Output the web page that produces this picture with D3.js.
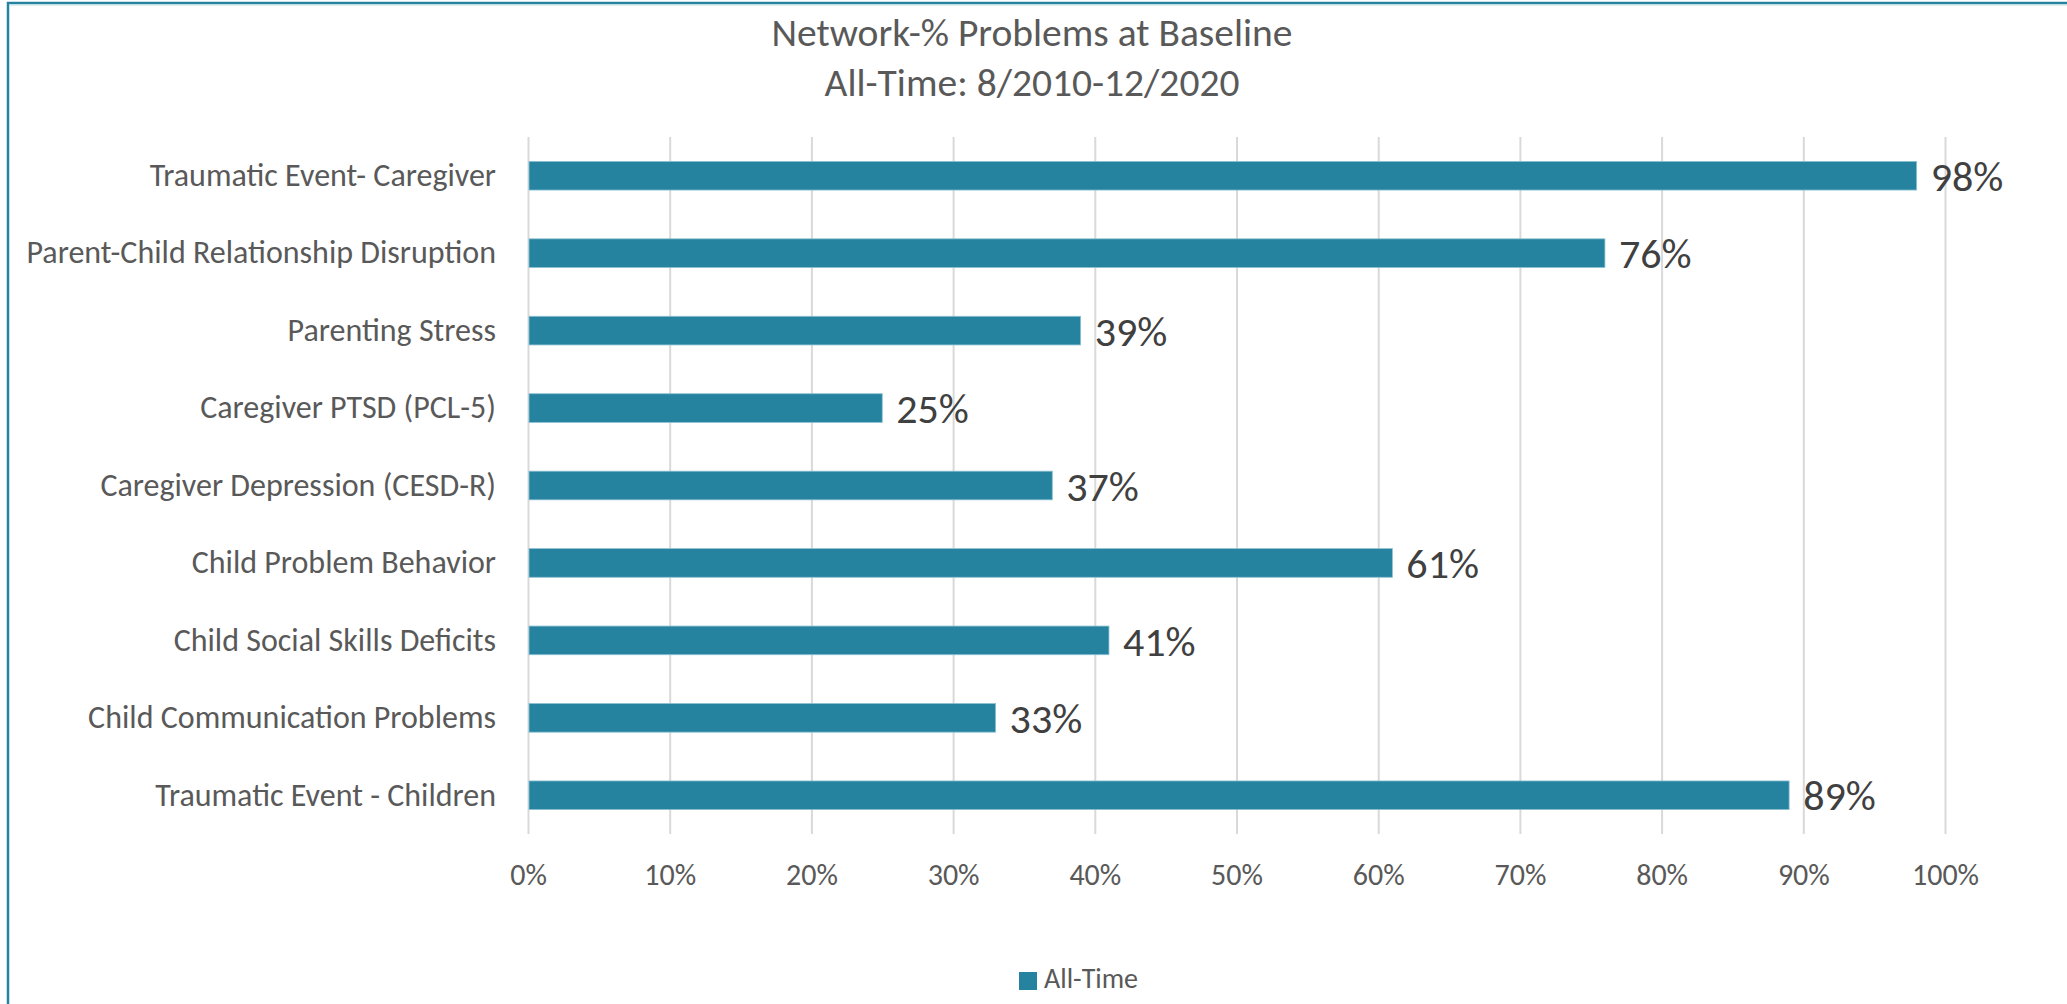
<!DOCTYPE html>
<html>
<head>
<meta charset="utf-8">
<script src="https://cdn.jsdelivr.net/npm/d3@7"></script>
<style>
  html, body { margin: 0; padding: 0; background: #ffffff; }
  svg { display: block; }
  text { font-family: Calibri, Carlito, Lato, "Noto Sans", sans-serif; }
</style>
</head>
<body>
<svg id="chart" width="2067" height="1004"></svg>
<script>
// ---- data ----
const titleLines = ["Network-% Problems at Baseline", "All-Time: 8/2010-12/2020"];
const categories = [
  "Traumatic Event- Caregiver",
  "Parent-Child Relationship Disruption",
  "Parenting Stress",
  "Caregiver PTSD (PCL-5)",
  "Caregiver Depression (CESD-R)",
  "Child Problem Behavior",
  "Child Social Skills Deficits",
  "Child Communication Problems",
  "Traumatic Event - Children"
];
const allTime = [0.98, 0.76, 0.39, 0.25, 0.37, 0.61, 0.41, 0.33, 0.89];
const xTicks = [0, 0.1, 0.2, 0.3, 0.4, 0.5, 0.6, 0.7, 0.8, 0.9, 1.0];
const seriesName = "All-Time";

// ---- layout ----
const W = 2067, H = 1004;
const plot = { left: 528, right: 1945, top: 137, bottom: 834 };
const barColor = "#2683A0";
const svg = d3.select("#chart");

// chart border (left & top visible)
svg.append("rect")
  .attr("x", 8).attr("y", 3)
  .attr("width", W + 20).attr("height", H + 20)
  .attr("fill", "#ffffff")
  .attr("stroke", "#2683A0").attr("stroke-width", 2.5);
svg.append("line")
  .attr("x1", 9).attr("x2", W).attr("y1", 5).attr("y2", 5)
  .attr("stroke", "#bcdbe5").attr("stroke-width", 1.2);

const x = d3.scaleLinear().domain([0, 1]).range([plot.left, plot.right]);
const y = d3.scaleBand().domain(categories)
  .range([plot.top, plot.bottom])
  .paddingInner(0.63).paddingOuter(0.315);

// gridlines + tick labels
const xAxis = d3.axisBottom(x)
  .tickValues(xTicks)
  .tickFormat(d3.format(".0%"))
  .tickSize(-(plot.bottom - plot.top))
  .tickPadding(0);
const gx = svg.append("g")
  .attr("transform", `translate(0,${plot.bottom})`)
  .call(xAxis);
gx.select(".domain").remove();
gx.selectAll(".tick line").attr("stroke", "#d9d9d9").attr("stroke-width", 2);
gx.selectAll(".tick text")
  .attr("y", 51).attr("dy", null)
  .attr("fill", "#595959")
  .style("font-size", "30px");

// category labels
const yAxis = d3.axisLeft(y).tickSize(0).tickPadding(32);
const gy = svg.append("g")
  .attr("transform", `translate(${plot.left},0)`)
  .call(yAxis);
gy.select(".domain").remove();
gy.selectAll(".tick text")
  .attr("fill", "#595959")
  .style("font-size", "32px");

// bars
svg.append("g").selectAll("rect")
  .data(categories)
  .join("rect")
  .attr("x", x(0) + 1)
  .attr("y", d => y(d))
  .attr("width", (d, i) => x(allTime[i]) - x(0) - 1)
  .attr("height", y.bandwidth())
  .attr("fill", barColor)
  .attr("stroke", "#8cc0d1")
  .attr("stroke-width", 0.8);

// data labels
svg.append("g").selectAll("text")
  .data(categories)
  .join("text")
  .attr("x", (d, i) => x(allTime[i]) + 14)
  .attr("y", d => y(d) + y.bandwidth() / 2)
  .attr("dy", "0.36em")
  .attr("fill", "#404040")
  .style("font-size", "42px")
  .text((d, i) => d3.format(".0%")(allTime[i]));

// title
svg.append("g").selectAll("text")
  .data(titleLines)
  .join("text")
  .attr("x", 1032)
  .attr("y", (d, i) => 46 + i * 50)
  .attr("text-anchor", "middle")
  .attr("fill", "#595959")
  .style("font-size", "39.5px")
  .text(d => d);

// legend
const lg = svg.append("g");
lg.append("rect")
  .attr("x", 1019).attr("y", 972)
  .attr("width", 18).attr("height", 18)
  .attr("fill", barColor);
lg.append("text")
  .attr("x", 1044).attr("y", 988)
  .attr("fill", "#595959")
  .style("font-size", "28px")
  .text(seriesName);
</script>
</body>
</html>
